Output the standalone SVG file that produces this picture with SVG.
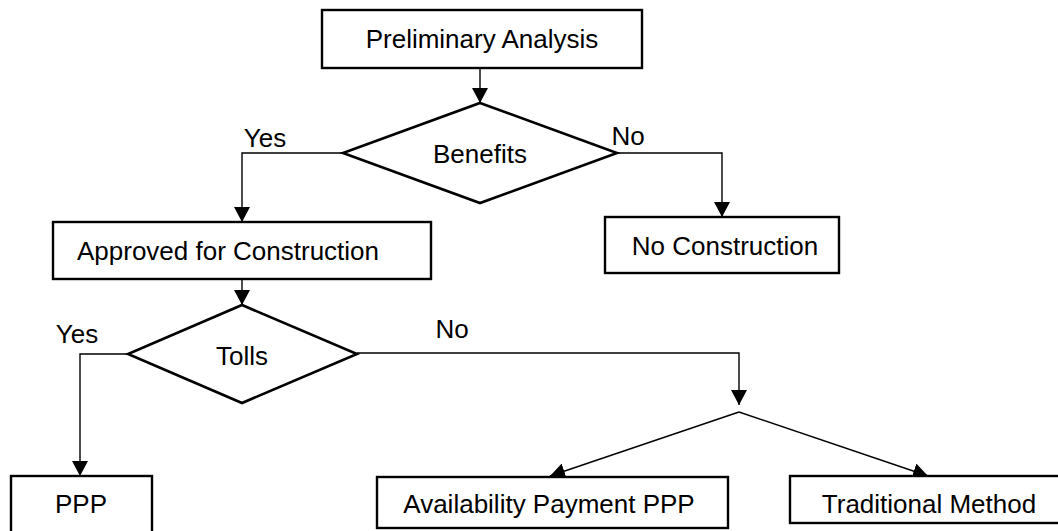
<svg xmlns="http://www.w3.org/2000/svg" width="1058" height="531" viewBox="0 0 1058 531">
<style>
.box{fill:#fff;stroke:#000;stroke-width:2.4}
.dia{fill:#fff;stroke:#000;stroke-width:2.6}
.lbl{font-family:"Liberation Sans",Arial,sans-serif;font-size:26px;fill:#000;text-anchor:middle}
.edge{fill:none;stroke:#000;stroke-width:1.4}
</style>
<defs>
<marker id="ah" markerUnits="userSpaceOnUse" markerWidth="15" markerHeight="16" refX="15" refY="8" orient="auto">
<path d="M0,0 L15,8 L0,16 z" fill="#000"/>
</marker>
</defs>
<rect width="1058" height="531" fill="#fff"/>
<g id="connectors">
<path class="edge" d="M480,68 V103" marker-end="url(#ah)"/>
<path class="edge" d="M343,153 H242 V222" marker-end="url(#ah)"/>
<path class="edge" d="M617,153 H722 V217" marker-end="url(#ah)"/>
<path class="edge" d="M242,279 V305" marker-end="url(#ah)"/>
<path class="edge" d="M128,354 H80 V476" marker-end="url(#ah)"/>
<path class="edge" d="M357,353 H739 V405" marker-end="url(#ah)"/>
<path class="edge" d="M739,412 L550,476" marker-end="url(#ah)"/>
<path class="edge" d="M739,412 L928,476" marker-end="url(#ah)"/>
</g>
<g id="preliminary">
<rect class="box" x="322" y="10" width="320" height="58"/>
<text class="lbl" x="482" y="48">Preliminary Analysis</text>
</g>
<g id="benefits">
<polygon class="dia" points="480,103 617,153 480,203 343,153"/>
<text class="lbl" x="480" y="163">Benefits</text>
</g>
<g id="no-construction">
<rect class="box" x="605" y="217" width="234" height="56"/>
<text class="lbl" x="725" y="255">No Construction</text>
</g>
<g id="approved">
<rect class="box" x="53" y="222" width="378" height="57"/>
<text class="lbl" x="228" y="260">Approved for Construction</text>
</g>
<g id="tolls">
<polygon class="dia" points="242,305 357,354 242,403 128,354"/>
<text class="lbl" x="242" y="365">Tolls</text>
</g>
<g id="ppp">
<rect class="box" x="11" y="476" width="141" height="64"/>
<text class="lbl" x="81" y="513">PPP</text>
</g>
<g id="availability">
<rect class="box" x="377" y="477" width="351" height="51"/>
<text class="lbl" x="549" y="513">Availability Payment PPP</text>
</g>
<g id="traditional">
<rect class="box" x="790" y="476" width="278" height="47"/>
<text class="lbl" x="929" y="513">Traditional Method</text>
</g>
<g id="labels">
<text class="lbl" x="265" y="147">Yes</text>
<text class="lbl" x="628" y="145">No</text>
<text class="lbl" x="77" y="343">Yes</text>
<text class="lbl" x="452" y="338">No</text>
</g>
</svg>
